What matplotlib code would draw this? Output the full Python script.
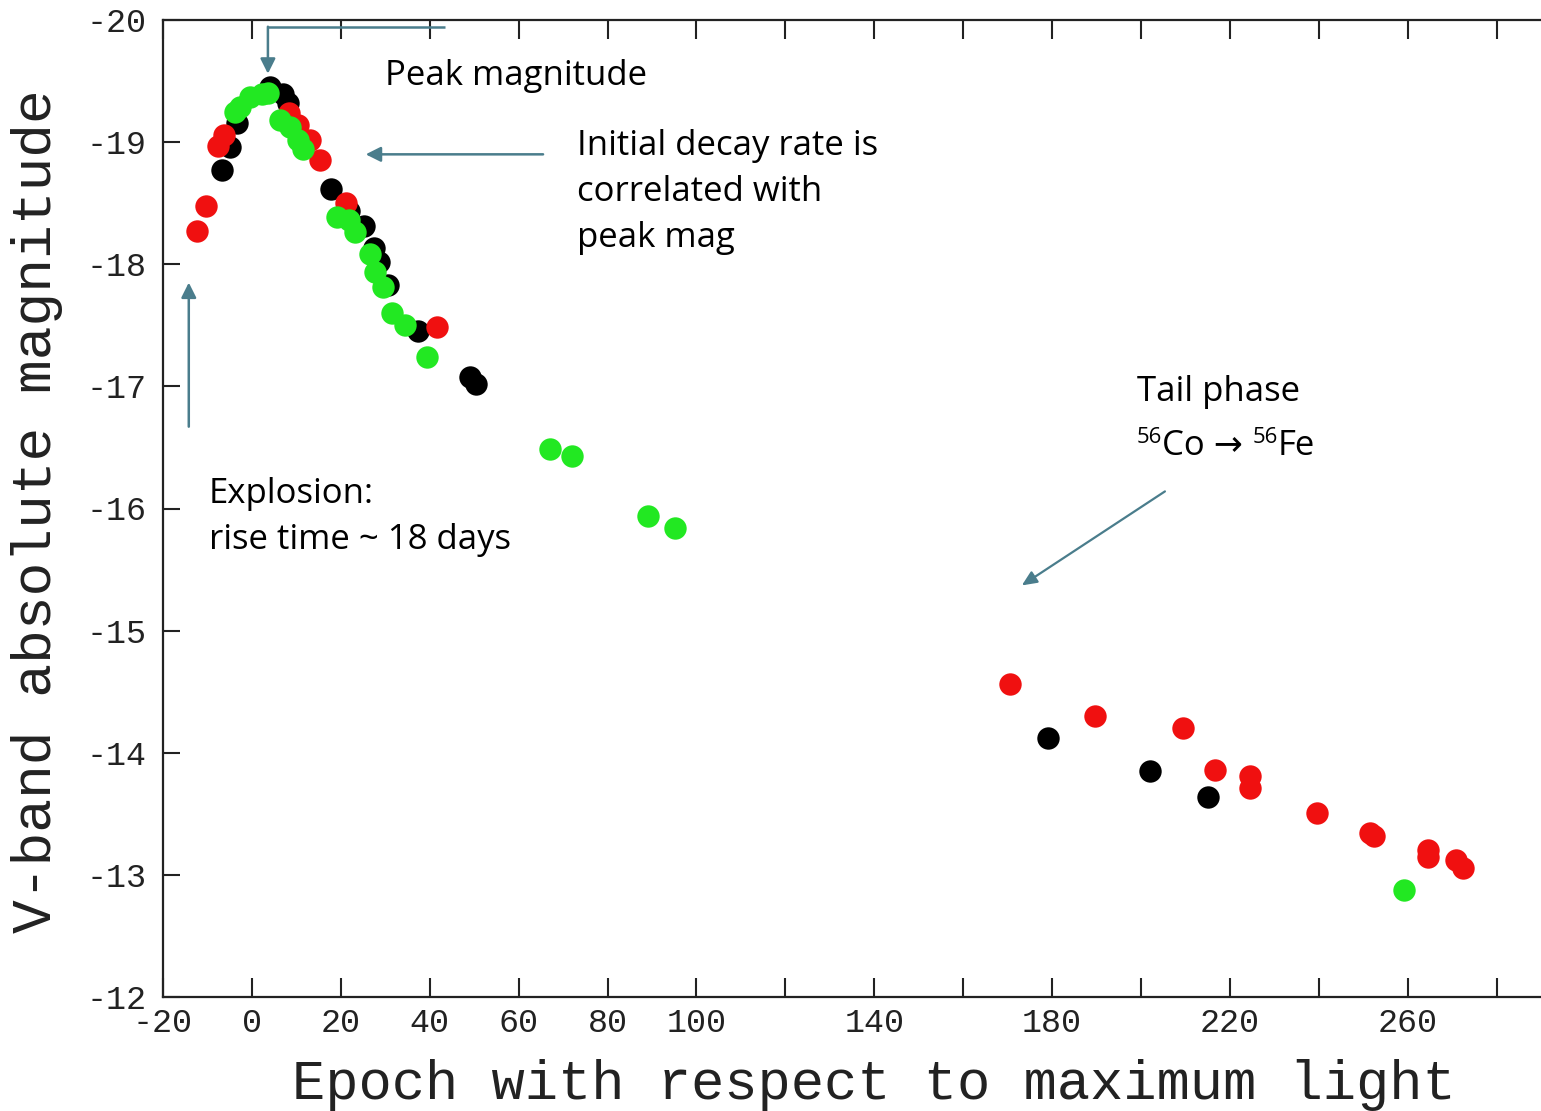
import matplotlib
matplotlib.use("Agg")
import matplotlib.pyplot as plt
from matplotlib.ticker import FixedLocator, FixedFormatter

# ---------------- data ----------------
red_x = [-12.4, -10.3, -7.6, -6.3, 8.3, 10.4, 13.0, 15.3, 21.1, 41.6,
         170.5, 189.6, 209.4, 216.6, 224.5, 224.5, 239.5, 251.5, 252.4,
         264.5, 264.5, 270.8, 272.4]
red_y = [-18.27, -18.48, -18.97, -19.06, -19.24, -19.14, -19.02, -18.85, -18.50, -17.49,
         -14.56, -14.30, -14.20, -13.86, -13.81, -13.71, -13.51, -13.34, -13.32,
         -13.20, -13.15, -13.12, -13.06]

black_x = [-6.7, -4.9, -3.4, 4.0, 7.0, 8.1, 17.8, 21.8, 25.2, 27.4, 28.6,
           30.6, 37.3, 49.0, 50.4, 179.0, 202.0, 215.0]
black_y = [-18.77, -18.96, -19.16, -19.45, -19.39, -19.32, -18.62, -18.44, -18.31, -18.13, -18.02,
           -17.83, -17.45, -17.08, -17.02, -14.12, -13.85, -13.64]

green_x = [-3.8, -2.7, -0.4, 2.2, 3.6, 6.3, 8.5, 10.3, 11.5, 19.1, 21.8, 23.2,
           26.5, 27.7, 29.5, 31.5, 34.4, 39.4, 67.0, 72.0, 89.1, 95.1, 259.1]
green_y = [-19.25, -19.29, -19.37, -19.39, -19.40, -19.18, -19.12, -19.02, -18.94, -18.39, -18.36, -18.26,
           -18.08, -17.94, -17.81, -17.60, -17.50, -17.24, -16.49, -16.43, -15.94, -15.84, -12.88]

x_ticks = [-20, 0, 20, 40, 60, 80, 100, 120, 140, 160, 180, 200, 220, 240, 260, 280]
x_tick_labels = ["-20", "0", "20", "40", "60", "80", "100", "", "140", "", "180", "", "220", "", "260", ""]
y_ticks = [-20, -19, -18, -17, -16, -15, -14, -13, -12]
y_tick_labels = ["-20", "-19", "-18", "-17", "-16", "-15", "-14", "-13", "-12"]

# ---------------- figure ----------------
W, H = 1541, 1111
fig = plt.figure(figsize=(W / 100, H / 100), dpi=100)
ax = fig.add_axes([163 / W, 1 - 997 / H, (W - 163) / W, (997 - 20) / H])
ax.set_xlim(-20, 290)
ax.set_ylim(-12, -20)

mono = "Liberation Mono"
sans = ["Open Sans", "DejaVu Sans"]
arrow_col = "#4a7d8c"

ms = 260
ax.scatter(black_x, black_y, s=ms, c="#000000", linewidths=0, zorder=3)
ax.scatter(red_x, red_y, s=ms, c="#f01010", linewidths=0, zorder=4)
ax.scatter(green_x, green_y, s=ms, c="#22e822", linewidths=0, zorder=5)

ax.xaxis.set_major_locator(FixedLocator(x_ticks))
ax.xaxis.set_major_formatter(FixedFormatter(x_tick_labels))
ax.yaxis.set_major_locator(FixedLocator(y_ticks))
ax.yaxis.set_major_formatter(FixedFormatter(y_tick_labels))
ax.tick_params(axis="x", direction="in", length=14, width=1.5, top=True, bottom=True,
               labelsize=24, pad=8, colors="#222222")
ax.tick_params(axis="y", direction="in", length=12, width=1.5, left=True, right=False,
               labelsize=24, pad=12, colors="#222222")
for lab in ax.get_xticklabels() + ax.get_yticklabels():
    lab.set_fontfamily(mono)
ax.spines["right"].set_visible(False)
for s in ["left", "top", "bottom"]:
    ax.spines[s].set_linewidth(1.6)
    ax.spines[s].set_color("#222222")

fig.text(874 / W, 1 - 1085 / H, "Epoch with respect to maximum light", family=mono,
         fontsize=40, ha="center", va="center", color="#222222")
fig.text(37 / W, 1 - 511 / H, "V-band absolute magnitude", family=mono,
         fontsize=40.5, ha="center", va="center", rotation=90, color="#222222")

# ---------------- annotations ----------------
fs = 25
ap = dict(arrowstyle="-|>,head_length=0.9,head_width=0.45", color=arrow_col, lw=1.8,
          shrinkA=0, shrinkB=0)

# line spacing in data units (46 px)
dy = 46 / 122.1
off = 0.025

# Peak magnitude (elbow arrow)
ax.plot([43.4, 3.6], [-19.94, -19.94], color=arrow_col, lw=1.8, solid_capstyle="butt", zorder=6)
ax.annotate("", xy=(3.6, -19.56), xytext=(3.6, -19.945), arrowprops=ap, zorder=6)
ax.text(29.9, -19.57 + off, "Peak magnitude", family=sans, fontsize=fs, ha="left", va="center")

# Initial decay
ax.annotate("", xy=(25.6, -18.9), xytext=(65.5, -18.9), arrowprops=ap)
for i, line in enumerate(["Initial decay rate is", "correlated with", "peak mag"]):
    ax.text(73.1, -18.99 + off + i * dy, line, family=sans, fontsize=fs, ha="left", va="center")

# Explosion
ax.annotate("", xy=(-14.2, -17.85), xytext=(-14.2, -16.67), arrowprops=ap)
for i, line in enumerate(["Explosion:", "rise time ~ 18 days"]):
    ax.text(-9.7, -16.14 + off + i * dy, line, family=sans, fontsize=fs, ha="left", va="center")

# Tail phase
ax.annotate("", xy=(173.2, -15.37), xytext=(205.4, -16.14),
            arrowprops=dict(arrowstyle="-|>,head_length=0.9,head_width=0.4", color=arrow_col,
                            lw=1.6, shrinkA=0, shrinkB=0))
ax.text(199.1, -16.98 + off, "Tail phase", family=sans, fontsize=fs, ha="left", va="center")
t1 = ax.text(204.8, -16.54 + off, "Co \u2192 ", family=sans, fontsize=fs, ha="left", va="center")
sup = 16
ax.annotate("56", xy=(0, 0.42), xycoords=t1, family=sans, fontsize=sup, ha="right", va="bottom")
t3 = ax.annotate("56", xy=(1, 0.42), xycoords=t1, family=sans, fontsize=sup, ha="left", va="bottom")
ax.annotate("Fe", xy=(1, 0), xycoords=(t3, t1), family=sans, fontsize=fs, ha="left", va="bottom")

fig.savefig("out.png", dpi=100)
